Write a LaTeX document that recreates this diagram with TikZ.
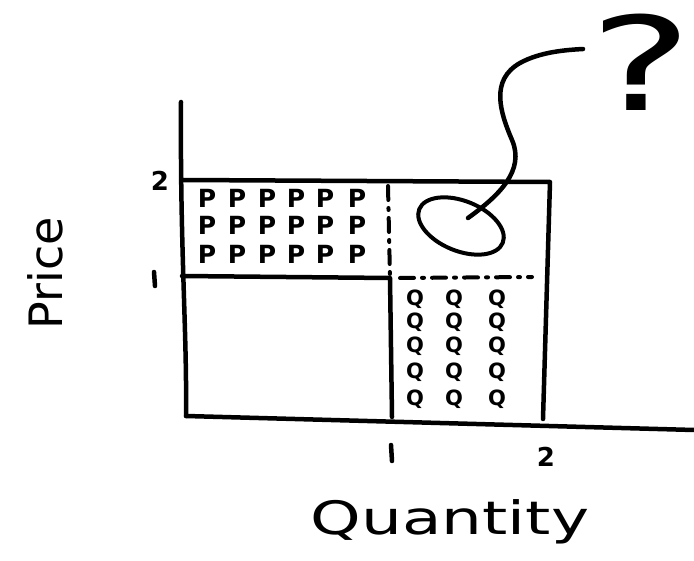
\documentclass[tikz,border=0pt]{standalone}
\usepackage{fontspec}
\setsansfont{DejaVu Sans}
\usetikzlibrary{shapes.geometric}
\begin{document}
\begin{tikzpicture}[x=1pt,y=-1pt,
  ink/.style={line width=4.5pt,line cap=round,line join=round},
  dashink/.style={line width=4pt,line cap=round,dash pattern=on 14pt off 8pt on 2pt off 8pt},
  pmark/.style={font=\sffamily\bfseries\fontsize{25}{25}\selectfont,inner sep=0pt},
  qmark/.style={font=\sffamily\bfseries\fontsize{21}{21}\selectfont,inner sep=0pt},
  tick/.style={font=\sffamily\bfseries\fontsize{26}{26}\selectfont,inner sep=0pt}]
\useasboundingbox (0,0) rectangle (694,561);
% key points
\coordinate (ytop) at (181,102);
\coordinate (origin) at (186,416);
\coordinate (xend) at (694,430);
\coordinate (tl) at (183,180);
\coordinate (tr) at (550,182);
\coordinate (br) at (543,419);
\coordinate (m1l) at (182,276);
\coordinate (m1r) at (390,278);
\coordinate (m1b) at (392,417);
\coordinate (dtop) at (388,186);
\coordinate (dhl) at (400,278);
\coordinate (dhr) at (532,277);
% axes
\draw[ink] (ytop) .. controls (180,250) and (187,330) .. (origin);
\draw[ink] (origin) -- (xend);
% rectangle lines
\draw[ink] (tl) -- (tr) -- (br);
\draw[ink] (m1l) -- (m1r) -- (m1b);
\draw[dashink] (dtop) -- (m1r);
\draw[dashink] (dhl) -- (dhr);
% tick labels
\node[tick] (y2) at (160,181) {2};
\draw[ink] (154,272) -- (155,286);
\node[tick] (x2) at (546,457) {2};
\draw[ink] (391,445) -- (392,461);
% axis labels
\node[font=\sffamily\fontsize{46}{46}\selectfont,rotate=90,inner sep=0pt] (price) at (45,273) {Price};
\node[font=\sffamily\fontsize{46}{46}\selectfont,inner sep=0pt] (qty) at (450,522) {\scalebox{1.4}[1]{Quantity}};
% P grid
\foreach \r/\y in {1/198,2/225,3/254}{
  \foreach \c/\x in {1/207,2/237,3/267,4/296,5/325,6/357}{
    \node[pmark] (p\r\c) at (\x,\y) {P};
  }
}
% Q grid
\foreach \r/\y in {1/299,2/322,3/346,4/372,5/399}{
  \foreach \c/\x in {1/415,2/454,3/497}{
    \node[qmark] (q\r\c) at (\x,\y) {Q};
  }
}
% ellipse and curve
\node[draw,ellipse,line width=4pt,minimum width=90pt,minimum height=50pt,rotate=-22] (oval) at (461,226) {};
\draw[ink] (468,218) .. controls (500,195) and (525,170) .. (512,140)
  .. controls (500,112) and (490,80) .. (520,63)
  .. controls (540,52) and (565,50) .. (583,49);
% question mark
\node[font=\sffamily\fontsize{130}{130}\selectfont,inner sep=0pt] (qm) at (641,62) {\scalebox{1.5}[1]{?}};
\end{tikzpicture}
\end{document}
